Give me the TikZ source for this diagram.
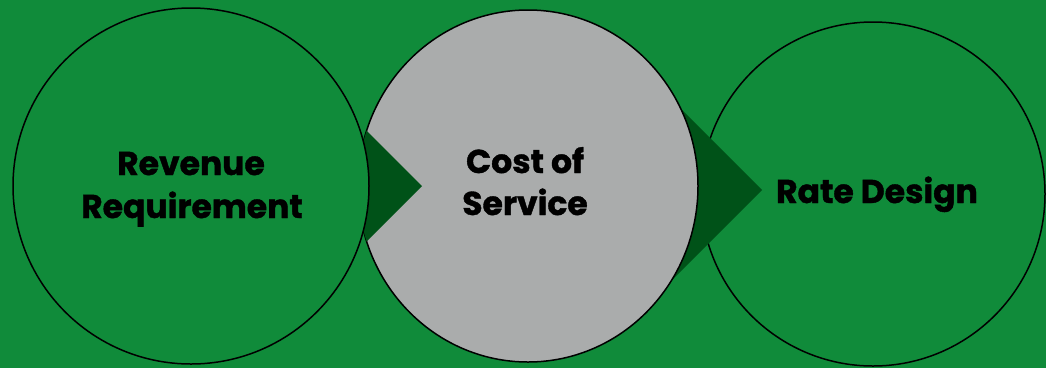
\documentclass[tikz,border=0pt]{standalone}
\usepackage{fontspec}
\setmainfont{Poppins}[BoldFeatures={FakeBold=1.2}]
\usetikzlibrary{shapes.geometric}
\definecolor{bggreen}{RGB}{16,139,58}
\definecolor{darkgreen}{RGB}{0,82,24}
\definecolor{disc}{RGB}{170,172,172}
\tikzset{
  ring/.style={circle, draw=black, line width=1.5pt, inner sep=0pt},
  lbl/.style={font=\bfseries\fontsize{33}{40}\selectfont, text=black, inner sep=0pt, anchor=base},
}
\begin{document}
\begin{tikzpicture}[x=1pt,y=-1pt]
\fill[bggreen] (0,0) rectangle (1046,368);
\useasboundingbox (0,0) rectangle (1046,368);
% right circle
\node[ring, fill=bggreen, minimum size=344pt] (rate) at (873,194) {};
% arrow 2
\fill[darkgreen] (640,68) -- (762,190) -- (640,312) -- cycle;
% middle disc
\node[ellipse, draw=black, line width=1.5pt, inner sep=0pt, fill=disc, minimum width=340pt, minimum height=352pt] (cost) at (528,186) {};
% arrow 1, inside the middle disc only
\begin{scope}
  \clip (528,186) ellipse [x radius=170, y radius=176];
  \fill[darkgreen] (330,94) -- (422,186) -- (330,278) -- cycle;
\end{scope}
% left circle
\node[ring, fill=bggreen, minimum size=356pt] (rev) at (191,186) {};
% labels
\node[lbl] (rev1) at (191,175) {Revenue};
\node[lbl] (rev2) at (192,218) {Requirement};
\node[lbl] (cost1) at (525,173) {Cost of};
\node[lbl] (cost2) at (525,215) {Service};
\node[lbl] (rate1) at (877,203) {Rate Design};
\end{tikzpicture}
\end{document}
